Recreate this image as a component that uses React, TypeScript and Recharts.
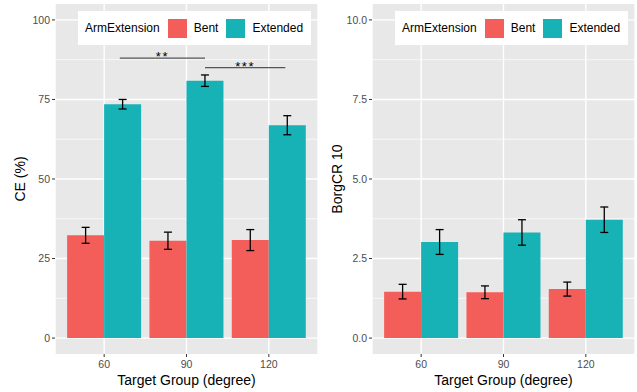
import React from "react";
import {
  Bar,
  BarChart,
  CartesianGrid,
  ErrorBar,
  Label,
  Legend,
  ReferenceLine,
  XAxis,
  YAxis,
} from "recharts";

const FONT = "'Liberation Sans', Arial, Helvetica, sans-serif";
const BENT = "#F35E5A";
const EXTENDED = "#17B2B6";

const categories = ["60", "90", "120"];

// CE (%)
const ceBent = [32.3, 30.6, 30.8];
const ceBentErr = [2.5, 2.7, 3.3];
const ceExtended = [73.5, 80.9, 66.9];
const ceExtendedErr = [1.5, 1.8, 3.0];
const ceTicks = [0, 25, 50, 75, 100];
const ceMinor = [12.5, 37.5, 62.5, 87.5];

// BorgCR 10
const borgBent = [1.46, 1.44, 1.54];
const borgBentErr = [0.23, 0.2, 0.22];
const borgExtended = [3.02, 3.32, 3.72];
const borgExtendedErr = [0.39, 0.4, 0.4];
const borgTicks = [0, 2.5, 5, 7.5, 10];
const borgMinor = [1.25, 3.75, 6.25, 8.75];

// significance brackets: between groups, shifted onto the Extended bars
// (shift given as a fraction of the category spacing)
const sigLabels = ["**", "***"];
const sigFrom = ["60", "90"];
const sigTo = ["90", "120"];
const sigShiftFrom = [0.19, 0.225];
const sigShiftTo = [0.225, 0.2];
const sigY = [88, 85];

const ceData = categories.map((c, i) => ({
  group: c,
  Bent: ceBent[i],
  bentErr: ceBentErr[i],
  Extended: ceExtended[i],
  extErr: ceExtendedErr[i],
}));

const borgData = categories.map((c, i) => ({
  group: c,
  Bent: borgBent[i],
  bentErr: borgBentErr[i],
  Extended: borgExtended[i],
  extErr: borgExtendedErr[i],
}));

const YTitle = (props: any) => {
  const { viewBox, value, px } = props;
  const cy = viewBox.y + viewBox.height / 2;
  return (
    <text
      x={px}
      y={cy}
      transform={`rotate(-90 ${px} ${cy})`}
      textAnchor="middle"
      dominantBaseline="central"
      fontSize={14}
      fontFamily={FONT}
      fill="#000"
    >
      {value}
    </text>
  );
};

const XTitle = (props: any) => {
  const { viewBox, value, py } = props;
  const cx = viewBox.x + viewBox.width / 2;
  return (
    <text
      x={cx}
      y={py}
      textAnchor="middle"
      dominantBaseline="central"
      fontSize={14}
      fontFamily={FONT}
      fill="#000"
    >
      {value}
    </text>
  );
};

// line between two group centres, moved onto the Extended bar centres
const SigBracket = (props: any) => {
  const { x1, x2, y1, label, shiftFrom, shiftTo } = props;
  if (x1 == null || x2 == null) return null;
  const band = x2 - x1;
  const a = x1 + shiftFrom * band;
  const b = x2 + shiftTo * band;
  return (
    <g>
      <line x1={a} x2={b} y1={y1} y2={y1} stroke="#555555" strokeWidth={1.3} />
      <text
        x={(a + b) / 2}
        y={y1 + 3}
        textAnchor="middle"
        fontSize={13}
        letterSpacing={1.5}
        fontFamily={FONT}
        fill="#000"
      >
        {label}
      </text>
    </g>
  );
};

const LegendBox = (props: any) => {
  const items = props.payload || [];
  return (
    <div
      style={{
        background: "#fff",
        width: 233,
        height: 34,
        display: "flex",
        alignItems: "center",
        boxSizing: "border-box",
        paddingLeft: 7,
        fontFamily: FONT,
        fontSize: 12,
        color: "#000",
        whiteSpace: "nowrap",
      }}
    >
      <span style={{ marginRight: 8 }}>ArmExtension</span>
      {items.map((it: any) => (
        <span key={it.value} style={{ display: "flex", alignItems: "center", marginRight: 8 }}>
          <span style={{ width: 19, height: 19, background: it.color, marginRight: 7 }} />
          <span>{it.value}</span>
        </span>
      ))}
    </div>
  );
};

type PanelProps = {
  data: any[];
  width: number;
  yWidth: number;
  domain: [number, number];
  ticks: number[];
  minor: number[];
  yTitle: string;
  yTitleX: number;
  legendLeft: number;
  tickFmt: (v: number) => string;
  sig?: boolean;
};

const Panel = ({
  data,
  width,
  yWidth,
  domain,
  ticks,
  minor,
  yTitle,
  yTitleX,
  legendLeft,
  tickFmt,
  sig,
}: PanelProps) => (
  <BarChart
    width={width}
    height={392}
    data={data}
    margin={{ top: 4, right: 2, bottom: 0, left: 0 }}
    barCategoryGap="5%"
    barGap={0}
  >
    <CartesianGrid
      fill="#E8E8E8"
      fillOpacity={1}
      stroke="#FFFFFF"
      strokeWidth={0.7}
      vertical={false}
      horizontalValues={minor}
    />
    <CartesianGrid stroke="#FFFFFF" strokeWidth={1.4} horizontalValues={ticks} />
    <XAxis
      dataKey="group"
      height={38}
      padding={{ left: 8, right: 8 }}
      axisLine={false}
      tickLine={{ stroke: "#333333" }}
      tickSize={3}
      tickMargin={4}
      tick={{ fill: "#4D4D4D", fontSize: 10.5, fontFamily: FONT }}
      interval={0}
    >
      <Label value="Target Group (degree)" content={<XTitle py={380} />} />
    </XAxis>
    <YAxis
      type="number"
      width={yWidth}
      domain={domain}
      ticks={ticks}
      allowDataOverflow
      axisLine={false}
      tickLine={{ stroke: "#333333" }}
      tickSize={3}
      tickMargin={2}
      tickFormatter={tickFmt}
      tick={{ fill: "#4D4D4D", fontSize: 10.5, fontFamily: FONT }}
    >
      <Label value={yTitle} content={<YTitle px={yTitleX} />} />
    </YAxis>
    <Legend
      verticalAlign="middle"
      layout="horizontal"
      content={<LegendBox />}
      wrapperStyle={{ left: legendLeft, top: 11, width: 233, height: 34 }}
    />
    <Bar dataKey="Bent" fill={BENT} isAnimationActive={false}>
      <ErrorBar dataKey="bentErr" direction="y" width={4} stroke="#000" strokeWidth={1.3} />
    </Bar>
    <Bar dataKey="Extended" fill={EXTENDED} isAnimationActive={false}>
      <ErrorBar dataKey="extErr" direction="y" width={4} stroke="#000" strokeWidth={1.3} />
    </Bar>
    {sig &&
      sigLabels.map((s, i) => (
        <ReferenceLine
          key={s}
          segment={[
            { x: sigFrom[i], y: sigY[i] },
            { x: sigTo[i], y: sigY[i] },
          ]}
          ifOverflow="visible"
          shape={(p: any) => (
            <SigBracket
              {...p}
              label={s}
              shiftFrom={sigShiftFrom[i]}
              shiftTo={sigShiftTo[i]}
            />
          )}
        />
      ))}
  </BarChart>
);

export default function App() {
  return (
    <div
      style={{
        position: "absolute",
        left: 0,
        top: 0,
        width: 637,
        height: 392,
        background: "#fff",
        fontFamily: FONT,
      }}
    >
      <div style={{ position: "absolute", left: 0, top: 0 }}>
        <Panel
          data={ceData}
          width={320}
          yWidth={55}
          domain={[-5, 105]}
          ticks={ceTicks}
          minor={ceMinor}
          yTitle="CE (%)"
          yTitleX={20}
          legendLeft={78}
          tickFmt={(v) => String(v)}
          sig
        />
      </div>
      <div style={{ position: "absolute", left: 318, top: 0 }}>
        <Panel
          data={borgData}
          width={319}
          yWidth={54}
          domain={[-0.5, 10.5]}
          ticks={borgTicks}
          minor={borgMinor}
          yTitle="BorgCR 10"
          yTitleX={19}
          legendLeft={77}
          tickFmt={(v) => v.toFixed(1)}
        />
      </div>
    </div>
  );
}
